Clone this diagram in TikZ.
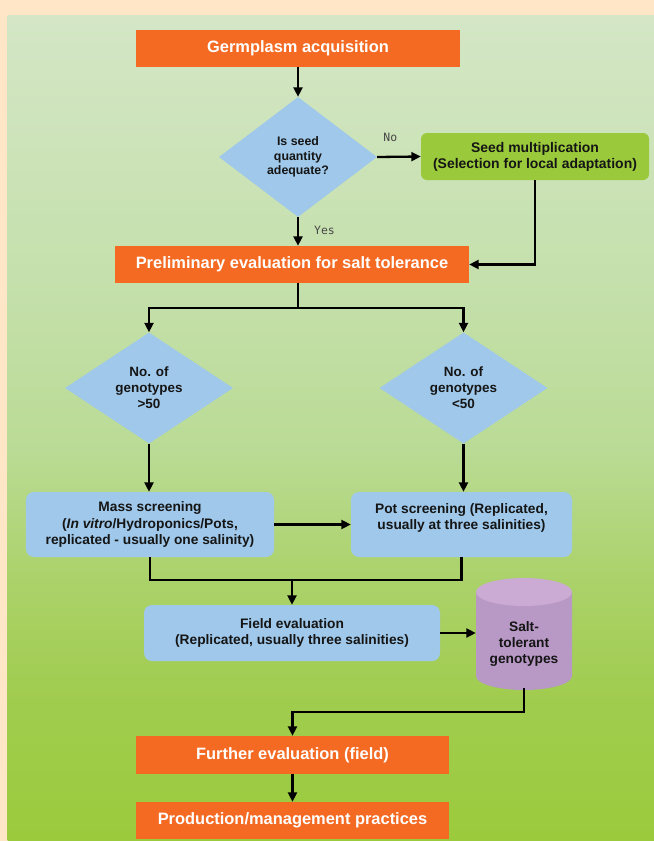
\documentclass[tikz,border=0pt]{standalone}
\usepackage{fontspec}
\setmainfont{Liberation Sans}
\newfontfamily\lblfont{DejaVu Sans Mono}
\usetikzlibrary{arrows.meta,shapes.geometric,calc}
\definecolor{bgbeige}{HTML}{FEE6C6}
\definecolor{orangec}{HTML}{F46A22}
\definecolor{bluec}{HTML}{9FC8EA}
\definecolor{greenc}{HTML}{9AC93B}
\definecolor{cylbody}{HTML}{B899C6}
\definecolor{cyltop}{HTML}{CBAAD4}
\definecolor{textc}{HTML}{151515}
\definecolor{g0}{HTML}{9BCB3C}
\definecolor{g1}{HTML}{A0CC4E}
\definecolor{g2}{HTML}{ABD26A}
\definecolor{g3}{HTML}{BADB95}
\definecolor{g4}{HTML}{C5E0AC}
\definecolor{g5}{HTML}{D4E6C6}
\pgfdeclareverticalshading{panelshade}{100bp}{color(0bp)=(g0); color(25bp)=(g0); color(33.5bp)=(g1); color(40.8bp)=(g2); color(48.7bp)=(g3); color(59bp)=(g4); color(75bp)=(g5); color(100bp)=(g5)}
\tikzset{
  orangebox/.style={fill=orangec, text=white, font=\fontsize{16.5}{19}\selectfont\bfseries, inner sep=0pt, minimum height=37bp},
  bluebox/.style={fill=bluec, rounded corners=8bp, text=textc, font=\fontsize{13.8}{16.5}\selectfont\bfseries, align=center, inner sep=0pt},
  greenbox/.style={fill=greenc, rounded corners=6bp, text=textc, font=\fontsize{14}{16}\selectfont\bfseries, align=center, inner sep=0pt},
  decision/.style={diamond, fill=bluec, inner sep=0pt, align=center, text=textc},
  arr/.style={line width=2.3bp, -{Triangle[length=9.5bp,width=9bp]}},
  conn/.style={line width=2.3bp},
  lbl/.style={font=\lblfont\fontsize{11.5}{13}\selectfont, text=black!72, inner sep=0pt}
}
\begin{document}
\begin{tikzpicture}[x=1bp,y=-1bp]
\useasboundingbox (0,0) rectangle (654,841);
\fill[bgbeige] (0,0) rectangle (654,841);
\shade[shading=panelshade] (7.5,15) rectangle (654,841);

% cylinder drawing
\fill[cylbody] (476,592) -- (476,676) arc[start angle=180, end angle=360, x radius=48bp, y radius=14bp] -- (572,592) -- cycle;
\fill[cyltop] (524,592) ellipse[x radius=48bp, y radius=14bp];

\node[orangebox, minimum width=324bp] (germ) at (298,48.5) {Germplasm acquisition};
\node[decision, minimum width=158bp, minimum height=120bp, font=\fontsize{12.4}{14.5}\selectfont\bfseries] (d1) at (298,157) {Is seed\\quantity\\adequate?};
\node[greenbox, minimum width=228bp, minimum height=47bp] (seed) at (535,156.5) {Seed multiplication\\(Selection for local adaptation)};
\node[orangebox, minimum width=354bp] (prelim) at (292,264.5) {Preliminary evaluation for salt tolerance};
\node[decision, minimum width=168bp, minimum height=111bp, font=\fontsize{13.5}{16}\selectfont\bfseries] (d2) at (149,388) {No. of\\genotypes\\>50};
\node[decision, minimum width=168bp, minimum height=111bp, font=\fontsize{13.5}{16}\selectfont\bfseries] (d3) at (463.5,388) {No. of\\genotypes\\<50};
\node[bluebox, minimum width=248bp, minimum height=65bp] (mass) at (150,524.5) {Mass screening\\(\textit{In vitro}/Hydroponics/Pots,\\replicated - usually one salinity)};
\node[bluebox, minimum width=221bp, minimum height=65bp] (pot) at (461.5,524.5) {Pot screening (Replicated,\\usually at three salinities)\\\mbox{}};
\node[bluebox, minimum width=296bp, minimum height=56bp] (field) at (292,633) {Field evaluation\\(Replicated, usually three salinities)};
\node[text=textc, font=\fontsize{13.8}{16.5}\selectfont\bfseries, align=center, inner sep=0pt, minimum width=96bp, minimum height=88bp] (cyl) at (524,644) {Salt-\\tolerant\\genotypes};
\node[orangebox, minimum width=313bp, minimum height=38bp] (further) at (292.5,755) {Further evaluation (field)};
\node[orangebox, minimum width=313bp] (prod) at (292.5,820.5) {Production/management practices};

\draw[arr] (germ.south) -- (d1.north);
\draw[arr] (d1.east) -- node[lbl, pos=0.3, above=14bp] {No} (seed.west);
\draw[arr] (d1.south) -- node[lbl, pos=0.45, right=15bp] {Yes} (d1.south |- prelim.north);
\draw[arr] (seed.south) |- (prelim.east);
\draw[conn] (d1.south |- prelim.south) -- ++(0,25) coordinate (br1);
\draw[arr] (br1) -| (d2.north);
\draw[arr] (br1) -| (d3.north);
\draw[arr] (d2.south) -- (d2.south |- mass.north);
\draw[arr] (d3.south) -- (d3.south |- pot.north);
\draw[arr] (mass.east) -- (pot.west);
\coordinate (j2) at ($(mass.south)+(0,23)$);
\draw[conn] (mass.south) -- (j2) -| (pot.south);
\draw[arr] (j2 -| field.north) -- (field.north);
\draw[arr] (field.east) -- (field.east -| cyl.west);
\draw[arr] (cyl.south) -- ++(0,24) -| (further.north);
\draw[arr] (further.south) -- (prod.north);
\end{tikzpicture}
\end{document}
